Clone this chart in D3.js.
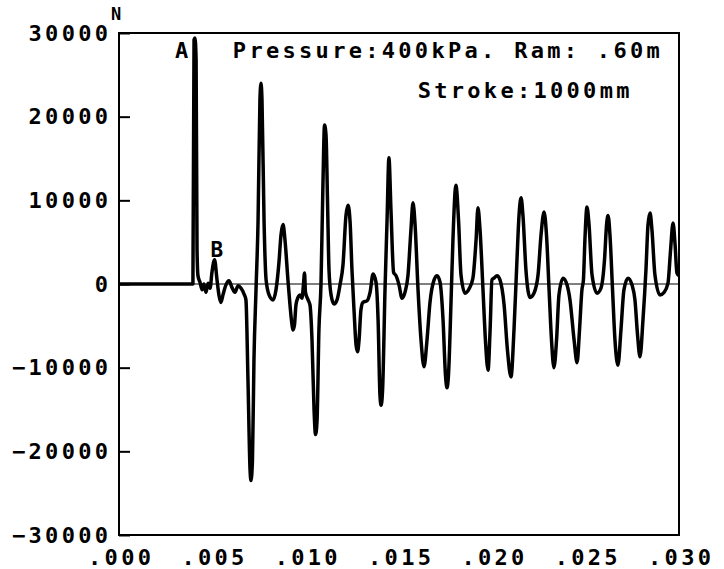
<!DOCTYPE html>
<meta charset="utf-8">

<!-- Load d3.js -->
<script src="https://d3js.org/d3.v7.min.js"></script>

<style>
  body { margin: 0; background: #fff; }
  text { font-family: "DejaVu Sans Mono", monospace; font-weight: bold; fill: #000; }
</style>

<body>
<div id="visual"></div>

<script>

// time (ms) and force (N)
var timeMs = [
  0, 3.94, 3.96, 4.02, 4.07, 4.13, 4.18, 4.23, 4.34, 4.45, 4.55, 4.66, 4.77, 4.88, 4.98,
  5.12, 5.25, 5.36, 5.46, 5.57, 5.73, 5.89, 6.05, 6.21, 6.38, 6.54, 6.70, 6.80, 6.91,
  7.02, 7.07, 7.15, 7.23, 7.34, 7.45, 7.55, 7.61, 7.66, 7.77, 7.88, 8.04, 8.25, 8.41,
  8.57, 8.68, 8.79, 8.89, 9.05, 9.16, 9.27, 9.32, 9.40, 9.48, 9.59, 9.70, 9.80, 9.88,
  9.94, 9.99, 10.13, 10.23, 10.34, 10.45, 10.53, 10.61, 10.71, 10.82, 10.93, 11.01,
  11.09, 11.17, 11.25, 11.36, 11.52, 11.68, 11.84, 12.00, 12.16, 12.27, 12.38, 12.48,
  12.59, 12.70, 12.78, 12.86, 12.96, 13.07, 13.29, 13.45, 13.61, 13.77, 13.88, 13.98,
  14.04, 14.12, 14.25, 14.36, 14.46, 14.57, 14.71, 14.84, 15.00, 15.16, 15.32, 15.48,
  15.64, 15.75, 15.86, 16.02, 16.18, 16.34, 16.50, 16.66, 16.88, 17.04, 17.20, 17.36,
  17.49, 17.57, 17.65, 17.79, 17.89, 18.05, 18.19, 18.32, 18.54, 18.75, 18.96, 19.13,
  19.23, 19.34, 19.50, 19.63, 19.77, 19.88, 19.98, 20.09, 20.25, 20.41, 20.63, 20.81,
  21.00, 21.16, 21.32, 21.43, 21.54, 21.64, 21.80, 22.02, 22.23, 22.45, 22.61, 22.77,
  22.90, 23.04, 23.17, 23.30, 23.44, 23.57, 23.79, 24.00, 24.16, 24.38, 24.54, 24.67,
  24.80, 24.88, 24.96, 25.07, 25.18, 25.34, 25.61, 25.82, 26.01, 26.12, 26.20, 26.30,
  26.44, 26.57, 26.73, 26.89, 27.05, 27.27, 27.48, 27.64, 27.78, 27.91, 28.07, 28.23,
  28.34, 28.45, 28.55, 28.71, 28.98, 29.20, 29.41, 29.55, 29.68, 29.79, 29.89, 30.00
];
var forceN = [
  0, 0, 0, 29200, 29400, 26800, 4100, 1000, 200, -700, 0, -1000, 100, -500, 1400,
  2900, 500, -1400, -2200, -1300, -100, 400, -400, -1000, -200, -500, -1200, -1900, -11500,
  -22200, -23500, -21000, -9100, -700, 7600, 22000, 24000, 22000, 7600, 500, -1300, -1900, -700,
  2600, 5900, 7100, 5300, 500, -2500, -4900, -5500, -4900, -2500, -1600, -1300, -1700, -100,
  1300, -1000, -1900, -2500, -6700, -15100, -18000, -16300, -5500, -100, 12400, 19000,
  17800, 10000, 1700, -1300, -2400, -1900, -100, 2300, 8200, 9400, 7400, 1700,
  -3100, -7300, -8100, -6700, -3100, -2200, -2000, -1000, 1200, 200, -4300, -13300,
  -14500, -12700, -700, 7600, 15100, 8800, 1400, 1000, -100, -1700, -1000, 1000,
  6500, 9700, 7100, -700, -6700, -9900, -6700, -2200, 500, 1000, 200, -4300,
  -10900, -12400, -10900, -1900, 5300, 11800, 7600, 1100, -1100, -600, 700, 5300,
  9100, 6500, -700, -6700, -10300, -5500, 500, 700, 1000, 500, -2500, -7900,
  -11100, -5500, 2900, 8200, 10300, 8200, 1700, -1600, -1100, 1100, 5900, 8600,
  5900, -700, -6700, -10000, -6700, -1300, 700, -100, -1900, -6700, -9400, -5500,
  -700, 500, 5300, 9200, 7100, 1100, -1100, -500, 2900, 7100, 8200, 5900,
  -700, -6700, -9700, -5500, -700, 700, -100, -1900, -6100, -8700, -4300, 1700,
  7100, 8500, 6500, 1100, -1300, -1000, 100, 4100, 7300, 4700, 1300, 1000
];

// axis ticks and labels
var xTicks = [0, 0.005, 0.010, 0.015, 0.020, 0.025, 0.030];
var xTickLabels = [".000", ".005", ".010", ".015", ".020", ".025", ".030"];
var yTicks = [-30000, -20000, -10000, 0, 10000, 20000, 30000];

// annotations on the plot
var headerLine1 = "Pressure:400kPa. Ram: .60m";
var headerLine2 = "Stroke:1000mm";
var markA = "A", markB = "B", unitLabel = "N";

var data = timeMs.map(function(t, i) { return { t: t / 1000, f: forceN[i] }; });

var fontSize = 22, spacing = 3.3;

// set the dimensions and margins of the graph
var margin = {top: 33, right: 45, bottom: 34, left: 119},
    width = 724 - margin.left - margin.right,
    height = 569 - margin.top - margin.bottom;

var svg = d3.select("#visual")
  .append("svg")
    .attr("width", width + margin.left + margin.right)
    .attr("height", height + margin.top + margin.bottom)
  .append("g")
    .attr("transform", "translate(" + margin.left + "," + margin.top + ")");

var x = d3.scaleLinear().domain([0, 0.030]).range([0, width]);
var y = d3.scaleLinear().domain([-30000, 30000]).range([height, 0]);

// frame
svg.append("rect")
  .attr("x", 0).attr("y", 0)
  .attr("width", width).attr("height", height)
  .attr("fill", "none")
  .attr("stroke", "#000")
  .attr("stroke-width", 2);

// X axis, labels only
var xAxis = svg.append("g")
  .attr("transform", "translate(0," + height + ")")
  .call(d3.axisBottom(x)
    .tickValues(xTicks)
    .tickSize(0)
    .tickPadding(14)
    .tickFormat(function(d, i) { return xTickLabels[i]; }));
xAxis.select(".domain").remove();
xAxis.selectAll("text")
  .attr("font-size", fontSize)
  .attr("letter-spacing", spacing)
  .attr("dx", spacing / 2)
  .attr("font-family", null);

// Y axis, ticks pointing into the plot
var yAxis = svg.append("g")
  .call(d3.axisLeft(y)
    .tickValues(yTicks)
    .tickSizeInner(-11)
    .tickSizeOuter(0)
    .tickPadding(11)
    .tickFormat(d3.format("d")));
yAxis.select(".domain").remove();
yAxis.selectAll("line").attr("stroke-width", 2);
yAxis.selectAll("text")
  .attr("font-size", fontSize)
  .attr("letter-spacing", spacing)
  .attr("dx", spacing)
  .attr("font-family", null);

// zero line
svg.append("line")
  .attr("x1", 0).attr("x2", width)
  .attr("y1", y(0)).attr("y2", y(0))
  .attr("stroke", "#000")
  .attr("stroke-width", 1.2);

// the force trace
svg.append("path")
  .datum(data)
  .attr("fill", "none")
  .attr("stroke", "#000")
  .attr("stroke-width", 3.5)
  .attr("stroke-linejoin", "round")
  .attr("d", d3.line()
    .curve(d3.curveMonotoneX)
    .x(function(d) { return x(d.t); })
    .y(function(d) { return y(d.f); }));

// texts
svg.append("text")
  .attr("x", x(0.00610)).attr("y", 25)
  .attr("font-size", fontSize).attr("letter-spacing", spacing)
  .text(headerLine1);
svg.append("text")
  .attr("x", x(0.01600)).attr("y", 65)
  .attr("font-size", fontSize).attr("letter-spacing", spacing)
  .text(headerLine2);
svg.append("text")
  .attr("x", x(0.00300)).attr("y", 25)
  .attr("font-size", fontSize)
  .text(markA);
svg.append("text")
  .attr("x", x(0.00490)).attr("y", y(2900) - 3)
  .attr("font-size", 21)
  .text(markB);
svg.append("text")
  .attr("x", -8).attr("y", -13)
  .attr("font-size", 17)
  .attr("font-weight", "normal")
  .text(unitLabel);

</script>
</body>
</html>
